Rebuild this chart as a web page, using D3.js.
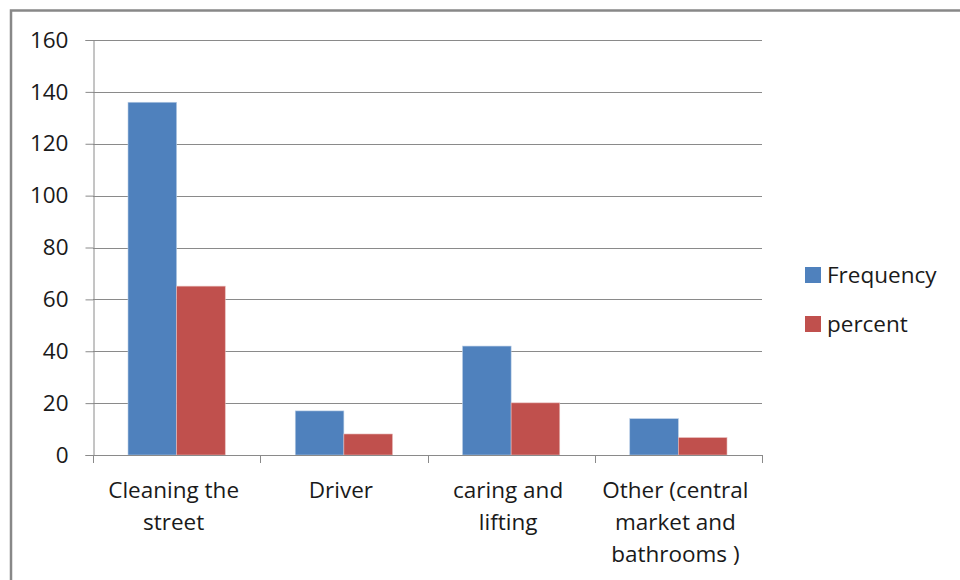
<!DOCTYPE html>
<html>
<head>
<meta charset="utf-8">
<script src="https://cdn.jsdelivr.net/npm/d3@7"></script>
<style>
  html, body { margin: 0; padding: 0; background: #fff; }
  svg { display: block; }
  text { font-family: "Open Sans", Lato, sans-serif; fill: #1a1a1a; }
</style>
</head>
<body>
<svg id="chart" width="960" height="580"></svg>
<script>
const categories = [
  ["Cleaning the", "street"],
  ["Driver"],
  ["caring and", "lifting"],
  ["Other (central", "market and", "bathrooms )"]
];
const seriesNames = ["Frequency", "percent"];
const frequency = [136, 17, 42, 14];
const percent = [65.1, 8.1, 20.1, 6.7];
const yTicks = [0, 20, 40, 60, 80, 100, 120, 140, 160];
const colors = ["#4F81BD", "#C0504D"];

(function () {
const FONT = "'Open Sans', Lato, sans-serif";
const FS = 22.5;
const svg = d3.select("#chart");
const mLeft = 93, mRight = 762, mTop = 40, mBottom = 455;

// outer border (extends beyond right/bottom of the view)
svg.append("rect")
  .attr("x", 11).attr("y", 10.5).attr("width", 1000).attr("height", 1000)
  .attr("fill", "none").attr("stroke", "#888").attr("stroke-width", 2.5);

const idx = d3.range(categories.length);
const x0 = d3.scaleBand().domain(idx).range([mLeft, mRight]).paddingInner(0).paddingOuter(0);
const x1 = d3.scaleBand().domain(seriesNames).range([0, x0.bandwidth()]).paddingInner(0).paddingOuter(0.72);
const y = d3.scaleLinear().domain([0, 160]).range([mBottom, mTop]);

// gridlines
svg.append("g").selectAll("line").data(yTicks.filter(d => d > 0)).join("line")
  .attr("x1", mLeft).attr("x2", mRight)
  .attr("y1", d => Math.round(y(d)) + 0.5).attr("y2", d => Math.round(y(d)) + 0.5)
  .attr("stroke", "#8a8a8a").attr("stroke-width", 1);

// bars
const values = [frequency, percent];
const g = svg.append("g");
seriesNames.forEach((s, si) => {
  g.append("g").selectAll("rect").data(idx).join("rect")
    .attr("x", i => x0(i) + x1(s))
    .attr("y", i => y(values[si][i]))
    .attr("width", x1.bandwidth())
    .attr("height", i => y(0) - y(values[si][i]))
    .attr("fill", colors[si])
    .attr("stroke", si === 0 ? "#b9cde5" : "#e6b9b8")
    .attr("stroke-width", 0.6);
});

// y axis
const yAxis = d3.axisLeft(y).tickValues(yTicks).tickSize(8).tickPadding(17).tickFormat(d3.format("d"));
const ya = svg.append("g").attr("transform", `translate(${mLeft + 0.5},0)`).call(yAxis);
ya.select(".domain").attr("stroke", "#8a8a8a");
ya.selectAll(".tick line").attr("stroke", "#8a8a8a");
ya.selectAll(".tick text").attr("font-size", FS).attr("fill", "#1a1a1a")
  .style("font-family", FONT);

// x axis: line and boundary ticks
const xa = svg.append("g");
xa.append("line").attr("x1", mLeft).attr("x2", mRight)
  .attr("y1", mBottom + 0.5).attr("y2", mBottom + 0.5).attr("stroke", "#8a8a8a");
const bounds = idx.map(i => x0(i)).concat([mRight]);
xa.selectAll("line.tk").data(bounds).join("line").attr("class", "tk")
  .attr("x1", d => Math.round(d) + 0.5).attr("x2", d => Math.round(d) + 0.5)
  .attr("y1", mBottom).attr("y2", mBottom + 8).attr("stroke", "#8a8a8a");

// x labels
idx.forEach(i => {
  const cx = x0(i) + x0.bandwidth() / 2 - 3;
  const t = svg.append("text")
    .attr("x", cx)
    .attr("y", 498)
    .attr("text-anchor", "middle")
    .attr("font-size", FS);
  categories[i].forEach((line, li) => {
    t.append("tspan").attr("x", cx).attr("y", 498 + li * 32).text(line);
  });
});

// legend
const lg = svg.append("g");
seriesNames.forEach((s, si) => {
  const yy = 267 + si * 49;
  lg.append("rect").attr("x", 805).attr("y", yy).attr("width", 16).attr("height", 16)
    .attr("fill", colors[si]);
  lg.append("text").attr("x", 827).attr("y", yy + 16).attr("font-size", FS).text(s);
});
})();
</script>
</body>
</html>
